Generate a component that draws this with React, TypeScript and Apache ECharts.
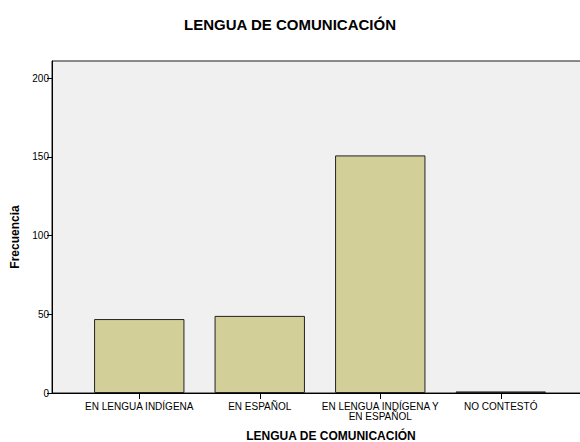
import React, { useEffect, useRef } from "react";
import * as echarts from "echarts";

const categories = [
  "EN LENGUA INDÍGENA",
  "EN ESPAÑOL",
  "EN LENGUA INDÍGENA Y\nEN ESPAÑOL",
  "NO CONTESTÓ",
];
const values = [47, 49, 151, 1];
const yTicks = [0, 50, 100, 150, 200];
const yMax = 211;
const titleText = "LENGUA DE COMUNICACIÓN";
const xTitle = "LENGUA DE COMUNICACIÓN";
const yTitle = "Frecuencia";

const FONT = "'Liberation Sans', Arial, Helvetica, sans-serif";

export default function App() {
  const ref = useRef<HTMLDivElement>(null);
  useEffect(() => {
    if (!ref.current) return;
    const chart = echarts.init(ref.current, null, { renderer: "svg" });
    chart.setOption({
      animation: false,
      backgroundColor: "#ffffff",
      textStyle: { fontFamily: FONT },
      title: {
        text: titleText,
        left: "center",
        top: 12,
        textStyle: { fontFamily: FONT, fontSize: 15, fontWeight: "bold", color: "#000" },
      },
      graphic: [
        {
          type: "text",
          x: 15,
          y: 237,
          rotation: Math.PI / 2,
          style: {
            text: yTitle,
            font: "bold 12px " + FONT,
            fill: "#000",
            align: "center",
            verticalAlign: "middle",
          },
        },
      ],
      grid: [
        {
          left: 52,
          right: -8,
          top: 61,
          bottom: 49,
          show: true,
          backgroundColor: "#f0f0f0",
          borderColor: "#1a1a1a",
          borderWidth: 1,
          containLabel: false,
          outerBoundsMode: "none",
        },
        {
          left: 79,
          right: 19,
          top: 61,
          bottom: 49,
          containLabel: false,
          outerBoundsMode: "none",
        },
      ],
      xAxis: [
        {
          gridIndex: 0,
          type: "value",
          min: 0,
          max: 1,
          axisLine: { show: true, lineStyle: { color: "#000", width: 1 } },
          axisTick: { show: false },
          axisLabel: { show: false },
          splitLine: { show: false },
        },
        {
          gridIndex: 1,
          type: "category",
          data: categories,
          axisLine: { show: false },
          axisTick: { show: true, alignWithLabel: true, length: 6, lineStyle: { color: "#000" } },
          axisLabel: {
            interval: 0,
            fontSize: 10,
            color: "#000",
            margin: 8,
            lineHeight: 10,
            fontFamily: FONT,
          },
          name: xTitle,
          nameLocation: "middle",
          nameGap: 37,
          nameTextStyle: {
            fontFamily: FONT,
            fontSize: 12,
            fontWeight: "bold",
            color: "#000",
            padding: [0, 0, 0, 22],
          },
        },
      ],
      yAxis: [
        {
          gridIndex: 0,
          type: "value",
          min: 0,
          max: yMax,
          axisLine: { show: true, lineStyle: { color: "#000", width: 1 } },
          axisTick: { show: true, length: 5, customValues: yTicks, lineStyle: { color: "#000" } },
          axisLabel: { fontSize: 10, color: "#000", margin: 3, customValues: yTicks, fontFamily: FONT },
          splitLine: { show: false },
        },
        {
          gridIndex: 1,
          type: "value",
          min: 0,
          max: yMax,
          show: false,
        },
      ],
      series: [
        {
          type: "bar",
          xAxisIndex: 1,
          yAxisIndex: 1,
          data: values,
          barWidth: "75%",
          itemStyle: { color: "#d3cf99", borderColor: "#222", borderWidth: 1 },
        },
      ],
    });
    return () => chart.dispose();
  }, []);
  return (
    <div
      ref={ref}
      style={{ position: "fixed", left: 0, top: 0, width: 580, height: 442 }}
    />
  );
}
